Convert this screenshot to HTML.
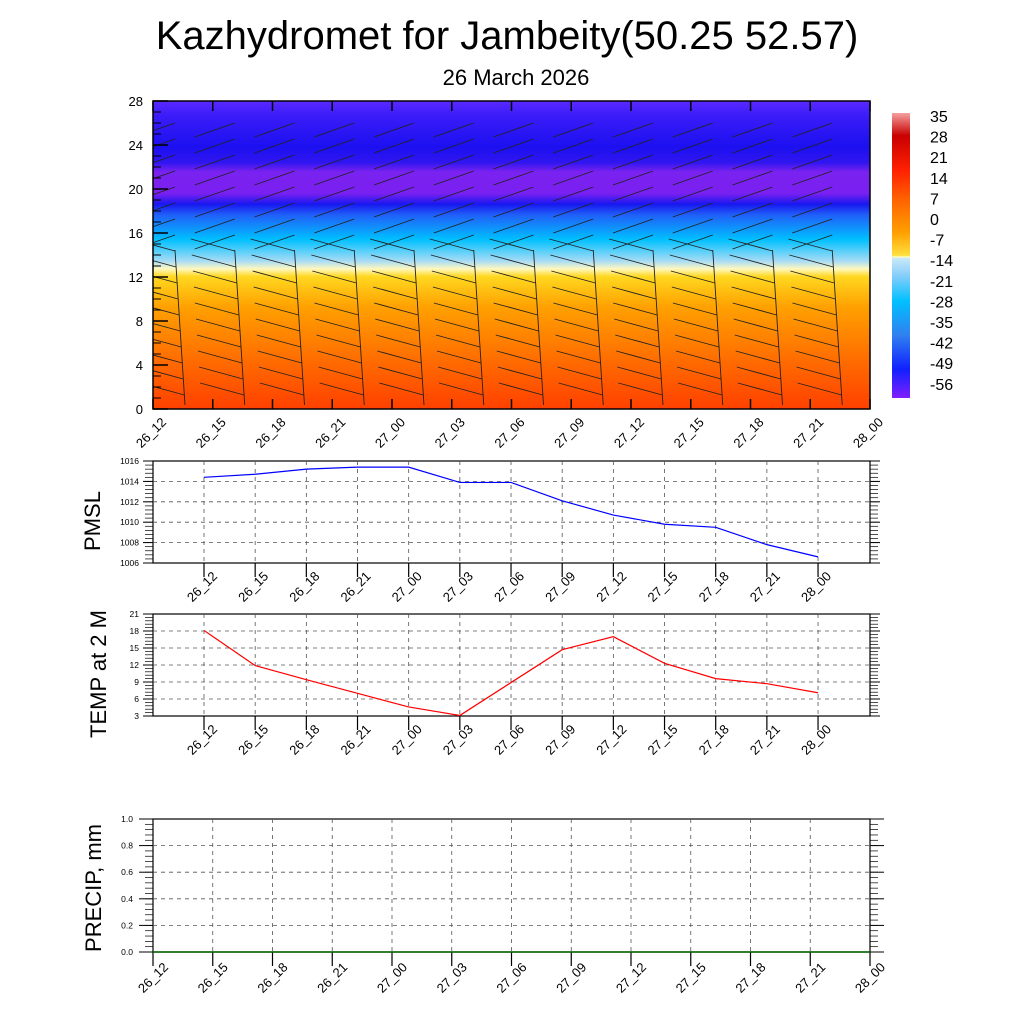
<!DOCTYPE html>
<html><head><meta charset="utf-8"><style>
body{margin:0;background:#fff}
svg text{font-family:"Liberation Sans",sans-serif}
</style></head><body>
<svg id="s" width="1024" height="1024" viewBox="0 0 1024 1024">
<defs>
<clipPath id="clp"><rect x="153" y="101" width="717" height="308"/></clipPath>
<linearGradient id="fld" x1="0" y1="0" x2="0" y2="1">
<stop offset="0" stop-color="#5a28ff"/><stop offset="0.05" stop-color="#3a1cf8"/>
<stop offset="0.15" stop-color="#1c10f0"/><stop offset="0.2" stop-color="#3016f0"/>
<stop offset="0.23" stop-color="#7a22f0"/><stop offset="0.3" stop-color="#7a20f0"/>
<stop offset="0.335" stop-color="#1818f0"/><stop offset="0.37" stop-color="#2060f8"/>
<stop offset="0.45" stop-color="#00c0ff"/><stop offset="0.52" stop-color="#a8dcf5"/>
<stop offset="0.545" stop-color="#fff8c0"/><stop offset="0.57" stop-color="#ffd820"/>
<stop offset="0.67" stop-color="#ffa000"/><stop offset="0.85" stop-color="#ff6a00"/>
<stop offset="1" stop-color="#ff4000"/></linearGradient>
<linearGradient id="cb" x1="0" y1="0" x2="0" y2="1">
<stop offset="0" stop-color="#f4a0a0"/><stop offset="0.08" stop-color="#c80000"/>
<stop offset="0.2" stop-color="#ff2000"/><stop offset="0.3" stop-color="#ff6000"/>
<stop offset="0.42" stop-color="#ffa000"/><stop offset="0.5" stop-color="#ffe040"/>
<stop offset="0.505" stop-color="#fffcc8"/><stop offset="0.51" stop-color="#c8e8f8"/>
<stop offset="0.57" stop-color="#87cefa"/><stop offset="0.66" stop-color="#00c0ff"/>
<stop offset="0.78" stop-color="#3080f0"/><stop offset="0.9" stop-color="#1020ff"/>
<stop offset="1" stop-color="#8020ff"/></linearGradient>
</defs>
<text x="507" y="49" font-size="40" text-anchor="middle">Kazhydromet for Jambeity(50.25 52.57)</text>
<text x="516" y="85" font-size="22" text-anchor="middle">26 March 2026</text>
<rect x="153" y="101" width="717" height="308" fill="url(#fld)"/>
<g id="barbs" clip-path="url(#clp)"></g>
<rect x="153" y="101" width="717" height="308" fill="none" stroke="#000" stroke-width="1.5"/>
<rect x="892" y="113" width="18" height="285" fill="url(#cb)"/>
<g id="cbl"></g>
<g id="g"></g>
<text transform="translate(100,521) rotate(-90)" font-size="22" text-anchor="middle">PMSL</text>
<text transform="translate(106,674) rotate(-90)" font-size="22" text-anchor="middle">TEMP at 2 M</text>
<text transform="translate(101,888) rotate(-90)" font-size="22" text-anchor="middle">PRECIP, mm</text>
</svg>
<script>
const times=["26_12","26_15","26_18","26_21","27_00","27_03","27_06","27_09","27_12","27_15","27_18","27_21","28_00"];
const pmsl=[1014.4,1014.7,1015.2,1015.4,1015.4,1013.9,1013.9,1012.1,1010.7,1009.8,1009.5,1007.8,1006.6];
const temp=[18.1,11.9,9.4,7.0,4.6,3.1,8.9,14.7,17.0,12.3,9.6,8.7,7.1];
const precip=[0,0,0,0,0,0,0,0,0,0,0,0,0];
const cbLabels=["35","28","21","14","7","0","-7","-14","-21","-28","-35","-42","-49","-56"];
const topTicks=[0,4,8,12,16,20,24,28];
const pmslTicks=[1006,1008,1010,1012,1014,1016];
const tempTicks=[3,6,9,12,15,18,21];
const precipTicks=[0,0.2,0.4,0.6,0.8,1.0];
const NS="http://www.w3.org/2000/svg";
const S=document.getElementById('s'),G=document.getElementById('g');
function el(t,a,p){const e=document.createElementNS(NS,t);for(const k in a)e.setAttribute(k,a[k]);(p||G).appendChild(e);return e;}
function line(x1,y1,x2,y2,c,w,d,p){const e=el('line',{x1,y1,x2,y2,stroke:c,'stroke-width':w},p);if(d)e.setAttribute('stroke-dasharray',d);return e;}
function xlab(x,y,t,fs){const e=el('text',{x:0,y:0,'font-size':fs,'text-anchor':'end',transform:`translate(${x},${y}) rotate(-45)`});e.textContent=t;

}
cbLabels.forEach((t,i)=>{const e=el('text',{x:930,y:122+i*20.6,'font-size':16},document.getElementById('cbl'));e.textContent=t;

});
const tX=i=>153+i*717/12, tY=v=>409-v/28*308;
topTicks.forEach(v=>{line(153,tY(v),168,tY(v),'#000',1.5);const e=el('text',{x:143,y:tY(v)+5,'font-size':13,'text-anchor':'end'});e.textContent=v;

});
for(let v=1;v<28;v++)line(153,tY(v),161,tY(v),'#000',1);
times.forEach((t,i)=>{line(tX(i),409,tX(i),399,'#000',1.5);line(tX(i),101,tX(i),111,'#000',1.5);xlab(tX(i)+14,423,t,13);});
const B=document.getElementById('barbs');
for(let i=0;i<12;i++){const xs=tX(i)+32;
 line(xs,405,xs-10,250,'#222',0.9,null,B);
 for(let y=395;y>112;y-=16){const up=y<250;const dx=up?-40:-44,dy=up?14:-12;const x0=xs-10*(405-Math.max(y,250))/155;
  line(x0,y,x0+dx,y+dy,'#222',0.9,null,B);}}
function panel(top,bot,ticks,vals,color,name){
 const lo=ticks[0],hi=ticks[ticks.length-1];const Y=v=>bot-(v-lo)/(hi-lo)*(bot-top);const X=i=>204+i*51.17;
 el('rect',{x:153,y:top,width:717,height:bot-top,fill:'none',stroke:'#000','stroke-width':1.2});
 ticks.forEach((v,k)=>{if(k>0&&k<ticks.length-1)line(153,Y(v),870,Y(v),'#555',0.8,'4,4');
  line(143,Y(v),153,Y(v),'#000',1);line(870,Y(v),880,Y(v),'#000',1);
  const e=el('text',{x:139,y:Y(v)+3,'font-size':8.5,'text-anchor':'end'});e.textContent=v;
  
  });
 const n=(ticks.length-1)*5;for(let k=1;k<n;k++){const y=bot-k*(bot-top)/n;line(145,y,153,y,'#000',0.7);line(870,y,878,y,'#000',0.7);}
 times.forEach((t,i)=>{line(X(i),top,X(i),bot,'#555',0.8,'4,4');line(X(i),bot,X(i),bot+14,'#000',1.2);xlab(X(i)+14,bot+14,t,13);});
 const p=el('polyline',{points:vals.map((v,i)=>X(i)+','+Y(v)).join(' '),fill:'none',stroke:color,'stroke-width':1.2});
 
 }
panel(461,563,pmslTicks,pmsl,'#0000ff','pmsl');
panel(614,716,tempTicks,temp,'#ff0000','temp');
{const top=819,bot=952,lo=0,hi=1;const Y=v=>bot-(v-lo)/(hi-lo)*(bot-top);
 el('rect',{x:153,y:top,width:717,height:bot-top,fill:'none',stroke:'#000','stroke-width':1.2});
 precipTicks.forEach((v,k)=>{if(k>0&&k<5)line(153,Y(v),870,Y(v),'#555',0.8,'4,4');
  line(139,Y(v),153,Y(v),'#000',1);line(870,Y(v),884,Y(v),'#000',1);
  const e=el('text',{x:133,y:Y(v)+3,'font-size':8.5,'text-anchor':'end'});e.textContent=v.toFixed(1);
  
  });
 for(let k=1;k<25;k++){const y=bot-k*(bot-top)/25;line(145,y,153,y,'#000',0.7);line(870,y,878,y,'#000',0.7);}
 times.forEach((t,i)=>{if(i>0&&i<12)line(tX(i),top,tX(i),bot,'#555',0.8,'4,4');line(tX(i),bot,tX(i),bot+14,'#000',1.2);xlab(tX(i)+16,bot+16,t,13);});
 const p=el('polyline',{points:precip.map((v,i)=>tX(i)+','+Y(v)).join(' '),fill:'none',stroke:'#006400','stroke-width':1.5});
 
 }
</script>
</body></html>
